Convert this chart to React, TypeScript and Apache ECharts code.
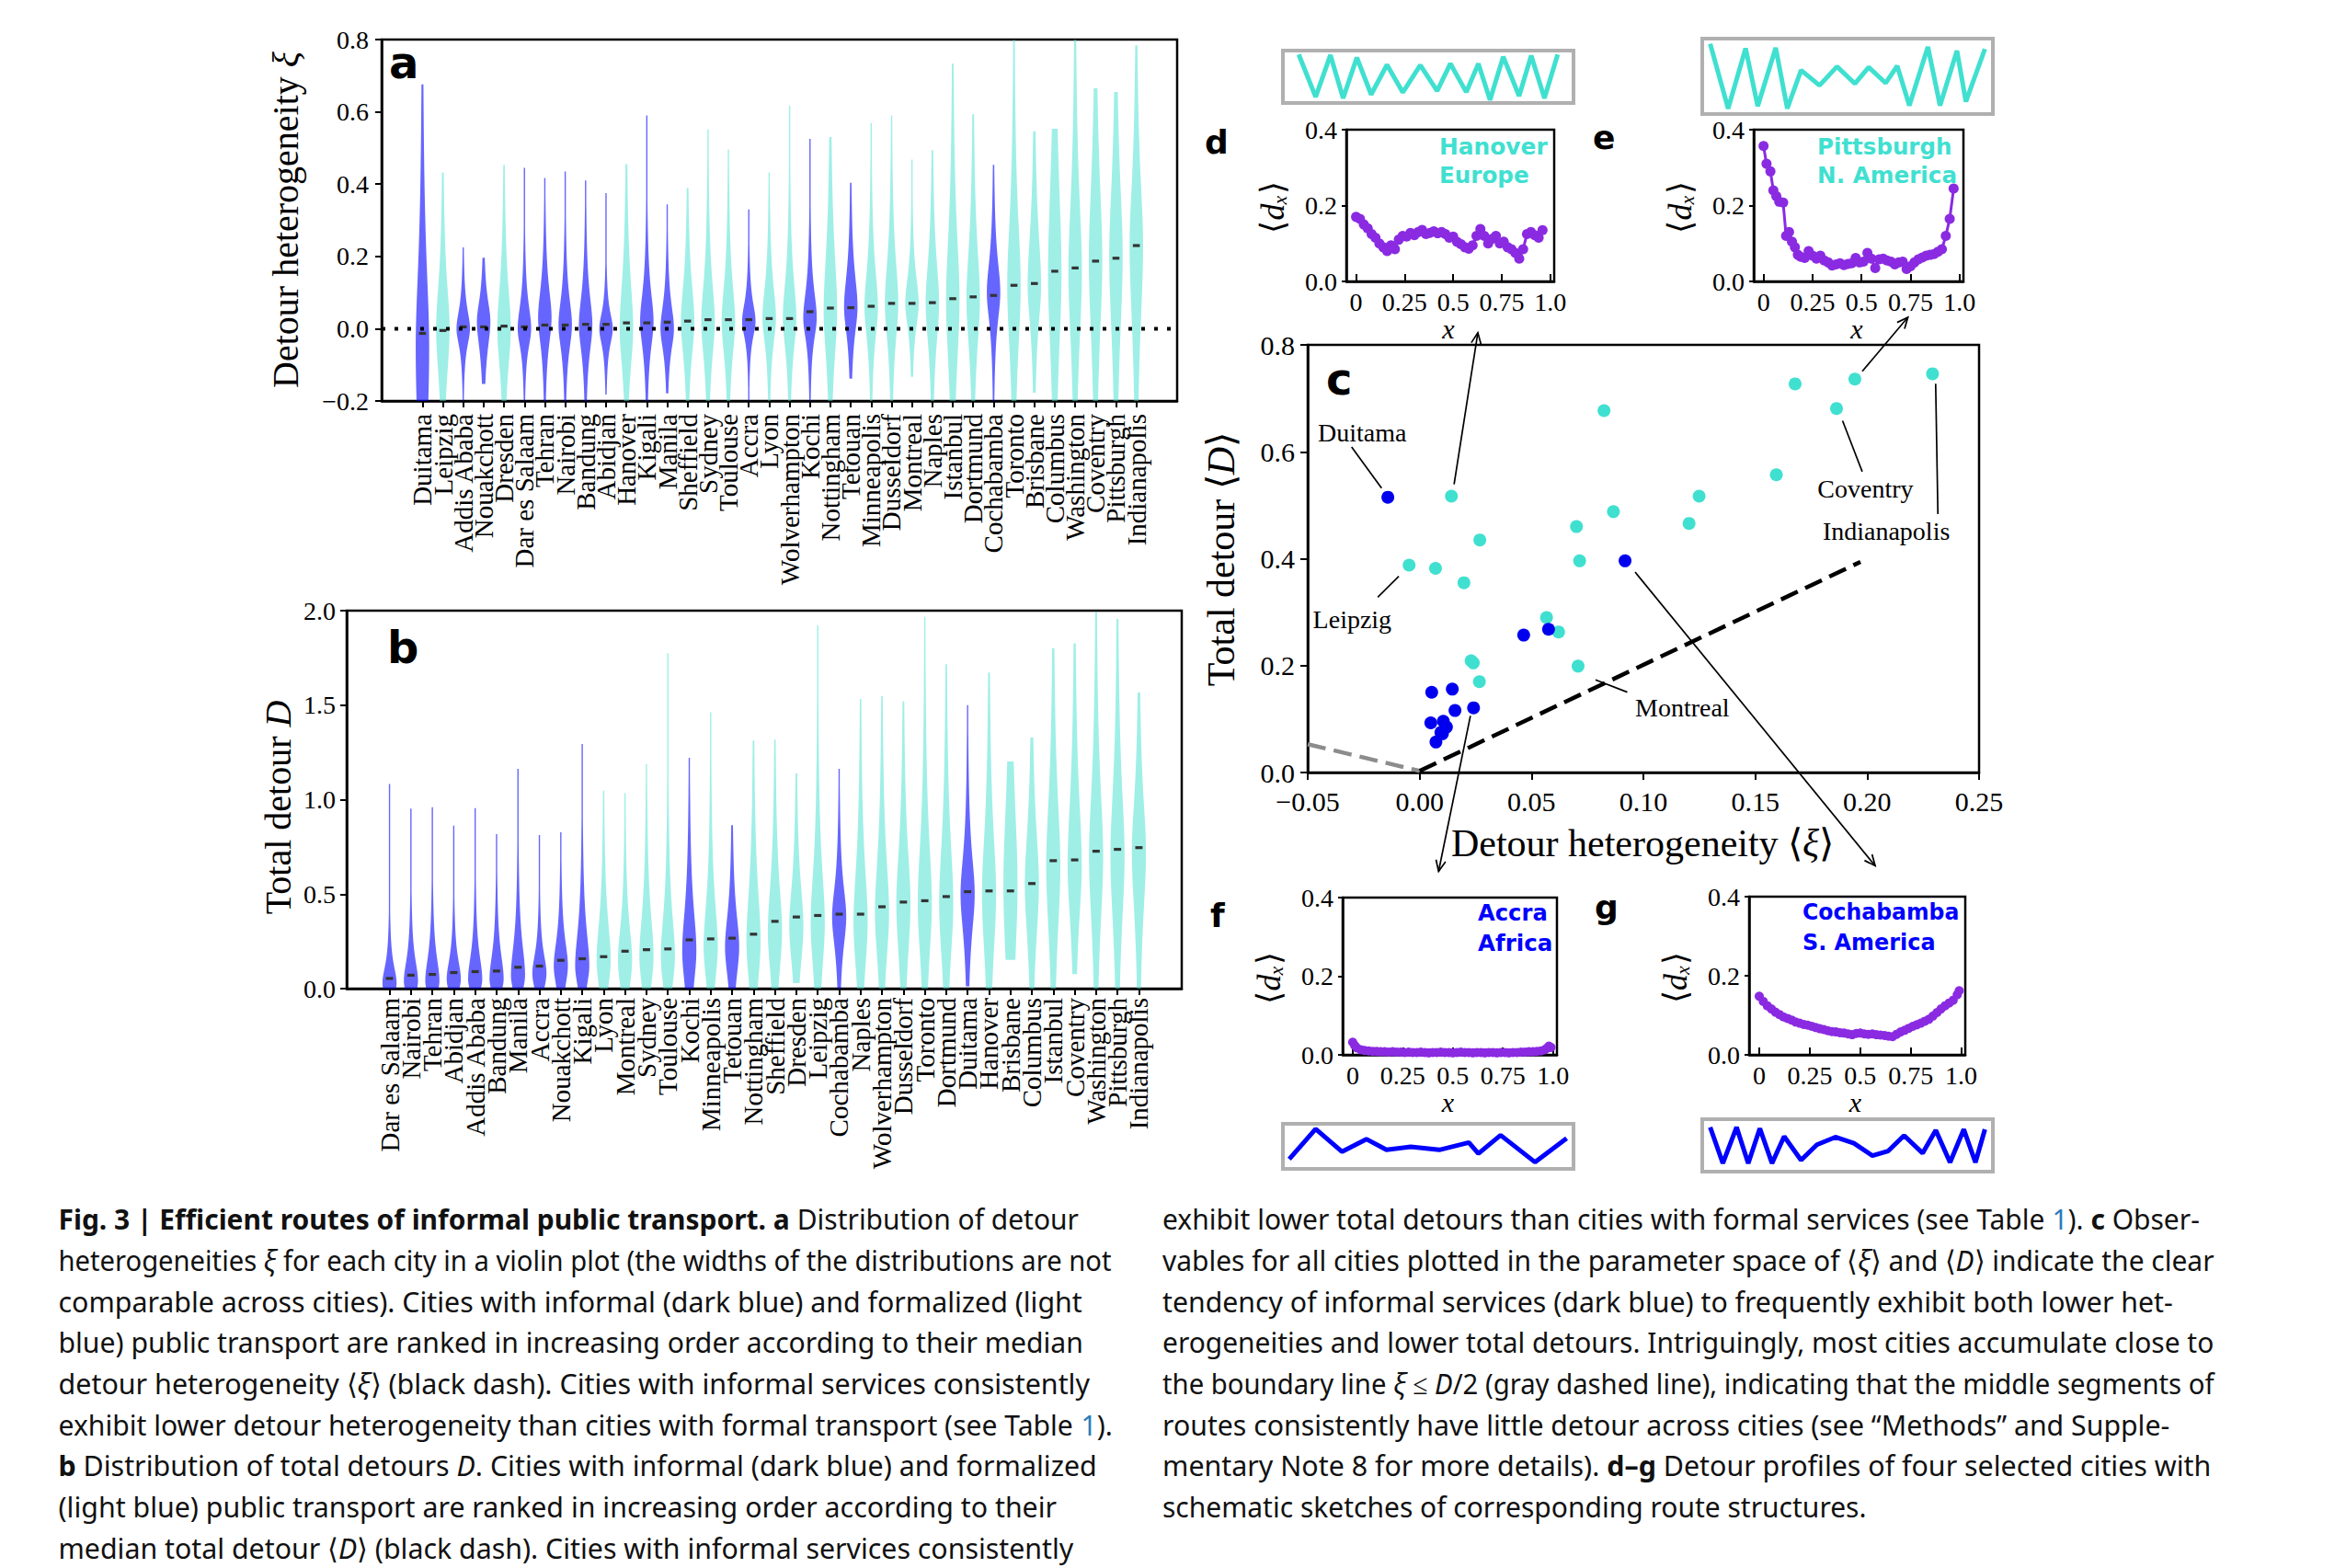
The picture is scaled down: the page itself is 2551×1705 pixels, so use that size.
import React, { useEffect, useRef } from "react";
import * as echarts from "echarts";

const PAGE_W = 2551;
const PAGE_H = 1705;

// ---------------- Panel a : detour heterogeneity xi ----------------
const aCities = ["Duitama", "Leipzig", "Addis Ababa", "Nouakchott", "Dresden", "Dar es Salaam", "Tehran", "Nairobi", "Bandung", "Abidjan", "Hanover", "Kigali", "Manila", "Sheffield", "Sydney", "Toulouse", "Accra", "Lyon", "Wolverhampton", "Kochi", "Nottingham", "Tetouan", "Minneapolis", "Dusseldorf", "Montreal", "Naples", "Istanbul", "Dortmund", "Cochabamba", "Toronto", "Brisbane", "Columbus", "Washington", "Coventry", "Pittsburgh", "Indianapolis"];
const aMedian = [-0.013, -0.005, 0.005, 0.005, 0.007, 0.005, 0.01, 0.01, 0.012, 0.012, 0.016, 0.016, 0.018, 0.021, 0.025, 0.025, 0.025, 0.028, 0.028, 0.047, 0.057, 0.058, 0.062, 0.07, 0.07, 0.072, 0.083, 0.088, 0.092, 0.12, 0.125, 0.159, 0.168, 0.187, 0.195, 0.23];
const aLow = [-0.2, -0.2, -0.2, -0.153, -0.2, -0.2, -0.2, -0.2, -0.2, -0.182, -0.2, -0.2, -0.179, -0.2, -0.2, -0.2, -0.2, -0.2, -0.2, -0.2, -0.2, -0.138, -0.2, -0.2, -0.133, -0.2, -0.2, -0.2, -0.2, -0.2, -0.177, -0.2, -0.2, -0.2, -0.2, -0.2];
const aHigh = [0.676, 0.432, 0.225, 0.196, 0.453, 0.445, 0.417, 0.435, 0.41, 0.375, 0.455, 0.59, 0.344, 0.39, 0.551, 0.496, 0.33, 0.432, 0.617, 0.525, 0.53, 0.404, 0.569, 0.59, 0.468, 0.494, 0.733, 0.593, 0.453, 0.8, 0.546, 0.553, 0.8, 0.665, 0.655, 0.784];
const aPeak = [-0.05, 0.0, 0.0, 0.02, 0.0, 0.0, 0.03, 0.01, 0.01, 0.0, 0.0, 0.02, 0.0, 0.02, 0.02, 0.02, 0.02, 0.03, 0.03, 0.03, 0.05, 0.06, 0.06, 0.07, 0.07, 0.07, 0.08, 0.08, 0.1, 0.12, 0.12, 0.15, 0.16, 0.19, 0.2, 0.23];
const aSpreadUp = [0.3, 0.17, 0.07, 0.08, 0.16, 0.09, 0.11, 0.1, 0.11, 0.06, 0.18, 0.11, 0.09, 0.14, 0.15, 0.14, 0.07, 0.12, 0.14, 0.1, 0.22, 0.12, 0.14, 0.16, 0.1, 0.16, 0.25, 0.2, 0.12, 0.25, 0.2, 0.35, 0.28, 0.3, 0.28, 0.25];
const aSpreadDown = [0.4, 0.18, 0.063, 0.1, 0.15, 0.07, 0.1, 0.09, 0.1, 0.06, 0.15, 0.1, 0.08, 0.13, 0.14, 0.13, 0.06, 0.1, 0.12, 0.08, 0.18, 0.1, 0.12, 0.14, 0.09, 0.15, 0.25, 0.18, 0.11, 0.25, 0.15, 0.3, 0.28, 0.3, 0.3, 0.3];

// ---------------- Panel b : total detour D ----------------
const bCities = ["Dar es Salaam", "Nairobi", "Tehran", "Abidjan", "Addis Ababa", "Bandung", "Manila", "Accra", "Nouakchott", "Kigali", "Lyon", "Montreal", "Sydney", "Toulouse", "Kochi", "Minneapolis", "Tetouan", "Nottingham", "Sheffield", "Dresden", "Leipzig", "Cochabamba", "Naples", "Wolverhampton", "Dusseldorf", "Toronto", "Dortmund", "Duitama", "Hanover", "Brisbane", "Columbus", "Istanbul", "Coventry", "Washington", "Pittsburgh", "Indianapolis"];
const bMedian = [0.054, 0.071, 0.075, 0.085, 0.09, 0.093, 0.113, 0.119, 0.15, 0.158, 0.169, 0.198, 0.206, 0.21, 0.258, 0.263, 0.267, 0.288, 0.356, 0.379, 0.387, 0.394, 0.394, 0.433, 0.458, 0.465, 0.487, 0.513, 0.517, 0.517, 0.556, 0.677, 0.681, 0.727, 0.737, 0.746];
const bLow = [0, 0, 0, 0, 0, 0, 0, 0, 0, 0, 0, 0, 0, 0, 0, 0, 0, 0, 0, 0.029, 0, 0, 0, 0, 0, 0, 0, 0.012, 0, 0.152, 0, 0, 0.077, 0, 0, 0];
const bHigh = [1.083, 0.952, 0.96, 0.862, 0.955, 0.817, 1.163, 0.813, 0.827, 1.294, 1.048, 1.035, 1.187, 1.775, 1.221, 1.462, 0.865, 1.313, 1.317, 1.14, 1.923, 1.163, 1.533, 1.548, 1.519, 1.967, 1.717, 1.5, 1.673, 1.202, 1.329, 1.802, 1.827, 1.994, 1.956, 1.567];
const bPeak = [0.03, 0.04, 0.04, 0.05, 0.05, 0.05, 0.07, 0.08, 0.12, 0.12, 0.15, 0.15, 0.17, 0.17, 0.2, 0.22, 0.22, 0.25, 0.3, 0.33, 0.35, 0.38, 0.35, 0.4, 0.45, 0.45, 0.45, 0.5, 0.5, 0.55, 0.55, 0.65, 0.65, 0.7, 0.7, 0.72];
const bSpreadUp = [0.12, 0.15, 0.17, 0.14, 0.17, 0.18, 0.22, 0.14, 0.18, 0.25, 0.28, 0.25, 0.3, 0.3, 0.3, 0.32, 0.24, 0.38, 0.35, 0.3, 0.38, 0.22, 0.4, 0.4, 0.4, 0.45, 0.45, 0.28, 0.45, 0.6, 0.4, 0.5, 0.5, 0.5, 0.5, 0.4];
const bSpreadDown = [0.1, 0.1, 0.1, 0.1, 0.1, 0.1, 0.12, 0.12, 0.15, 0.15, 0.2, 0.2, 0.22, 0.22, 0.25, 0.25, 0.22, 0.3, 0.3, 0.28, 0.35, 0.22, 0.35, 0.35, 0.4, 0.4, 0.4, 0.28, 0.45, 0.6, 0.4, 0.5, 0.4, 0.5, 0.5, 0.45];

const informalCities = ["Duitama", "Addis Ababa", "Nouakchott", "Dar es Salaam", "Tehran", "Nairobi", "Bandung", "Abidjan", "Kigali", "Manila", "Accra", "Kochi", "Tetouan", "Cochabamba"];

// ---------------- Panel c : <xi> vs <D> ----------------
const cInformalXi = [-0.0142, 0.0918, 0.0465, 0.0576, 0.0054, 0.0146, 0.0158, 0.0241, 0.005, 0.0106, 0.012, 0.0102, 0.0095, 0.0073];
const cInformalD = [0.515, 0.396, 0.257, 0.268, 0.15, 0.156, 0.116, 0.121, 0.093, 0.096, 0.085, 0.0725, 0.075, 0.057];
const cFormalXi = [0.0142, -0.0047, 0.0071, 0.0198, 0.0269, 0.023, 0.024, 0.0267, 0.0567, 0.0621, 0.0708, 0.0701, 0.0715, 0.0866, 0.0824, 0.1204, 0.1249, 0.1594, 0.1678, 0.1863, 0.1945, 0.2292];
const cFormalD = [0.517, 0.388, 0.382, 0.355, 0.435, 0.209, 0.205, 0.17, 0.29, 0.263, 0.199, 0.46, 0.396, 0.488, 0.677, 0.466, 0.517, 0.557, 0.727, 0.681, 0.736, 0.746];
const cBoundaryBlack = [[0, 0.003], [0.197, 0.394]];
const cBoundaryGray = [[-0.05, 0.053], [0, 0.003]];

// ---------------- Panels d-g : detour profiles ----------------
const hanoverX = [0.0, 0.02, 0.04, 0.06, 0.08, 0.1, 0.12, 0.14, 0.16, 0.18, 0.2, 0.22, 0.24, 0.26, 0.28, 0.3, 0.32, 0.34, 0.36, 0.38, 0.4, 0.42, 0.44, 0.46, 0.48, 0.5, 0.52, 0.54, 0.56, 0.58, 0.6, 0.62, 0.64, 0.66, 0.68, 0.7, 0.72, 0.74, 0.76, 0.78, 0.8, 0.82, 0.84, 0.86, 0.88, 0.9, 0.92, 0.94, 0.96];
const hanoverY = [0.17, 0.165, 0.15, 0.14, 0.125, 0.115, 0.1, 0.09, 0.08, 0.095, 0.085, 0.11, 0.12, 0.118, 0.128, 0.122, 0.13, 0.136, 0.125, 0.128, 0.132, 0.127, 0.13, 0.125, 0.115, 0.118, 0.104, 0.098, 0.09, 0.086, 0.095, 0.12, 0.138, 0.12, 0.1, 0.112, 0.12, 0.1, 0.105, 0.09, 0.085, 0.075, 0.06, 0.085, 0.125, 0.13, 0.122, 0.115, 0.135];
const pittsburghX = [0.0, 0.015, 0.035, 0.05, 0.065, 0.08, 0.1, 0.115, 0.13, 0.145, 0.16, 0.175, 0.19, 0.21, 0.23, 0.25, 0.27, 0.29, 0.31, 0.33, 0.35, 0.37, 0.39, 0.41, 0.43, 0.45, 0.47, 0.49, 0.51, 0.53, 0.55, 0.57, 0.59, 0.61, 0.63, 0.65, 0.67, 0.69, 0.71, 0.73, 0.75, 0.77, 0.79, 0.81, 0.83, 0.85, 0.87, 0.89, 0.91, 0.93, 0.95, 0.97];
const pittsburghY = [0.357, 0.31, 0.29, 0.24, 0.225, 0.21, 0.208, 0.12, 0.13, 0.105, 0.09, 0.07, 0.065, 0.062, 0.08, 0.068, 0.06, 0.068, 0.055, 0.05, 0.042, 0.045, 0.048, 0.043, 0.046, 0.048, 0.062, 0.05, 0.052, 0.075, 0.06, 0.035, 0.058, 0.06, 0.055, 0.052, 0.045, 0.05, 0.052, 0.033, 0.04, 0.05, 0.058, 0.063, 0.068, 0.07, 0.072, 0.078, 0.085, 0.12, 0.165, 0.245];
const accraX = [0.0, 0.01, 0.02, 0.04, 0.06, 0.08, 0.1, 0.12, 0.14, 0.16, 0.18, 0.2, 0.22, 0.24, 0.26, 0.28, 0.3, 0.32, 0.34, 0.36, 0.38, 0.4, 0.42, 0.44, 0.46, 0.48, 0.5, 0.52, 0.54, 0.56, 0.58, 0.6, 0.62, 0.64, 0.66, 0.68, 0.7, 0.72, 0.74, 0.76, 0.78, 0.8, 0.82, 0.84, 0.86, 0.88, 0.9, 0.92, 0.94, 0.96, 0.97, 0.98, 0.99];
const accraY = [0.032, 0.024, 0.018, 0.013, 0.011, 0.01, 0.009, 0.009, 0.008, 0.008, 0.007, 0.008, 0.007, 0.007, 0.006, 0.007, 0.006, 0.006, 0.007, 0.006, 0.005, 0.006, 0.006, 0.007, 0.006, 0.006, 0.005, 0.006, 0.007, 0.006, 0.006, 0.005, 0.006, 0.006, 0.005, 0.006, 0.006, 0.005, 0.006, 0.006, 0.005, 0.006, 0.006, 0.007, 0.007, 0.008, 0.008, 0.009, 0.01, 0.013, 0.017, 0.022, 0.019];
const cochabambaX = [0.0, 0.02, 0.04, 0.06, 0.08, 0.1, 0.12, 0.14, 0.16, 0.18, 0.2, 0.22, 0.24, 0.26, 0.28, 0.3, 0.32, 0.34, 0.36, 0.38, 0.4, 0.42, 0.44, 0.46, 0.48, 0.5, 0.52, 0.54, 0.56, 0.58, 0.6, 0.62, 0.64, 0.66, 0.68, 0.7, 0.72, 0.74, 0.76, 0.78, 0.8, 0.82, 0.84, 0.86, 0.88, 0.9, 0.92, 0.94, 0.96, 0.98, 0.99];
const cochabambaY = [0.148, 0.135, 0.124, 0.116, 0.108, 0.102, 0.096, 0.092, 0.088, 0.083, 0.08, 0.077, 0.075, 0.072, 0.069, 0.066, 0.064, 0.061, 0.059, 0.058, 0.056, 0.055, 0.053, 0.051, 0.054, 0.055, 0.053, 0.052, 0.053, 0.051, 0.05, 0.049, 0.047, 0.046, 0.052, 0.058, 0.062, 0.067, 0.072, 0.076, 0.08, 0.085, 0.09, 0.098, 0.107, 0.116, 0.124, 0.131, 0.138, 0.152, 0.162];
const profileTicks = [0, 0.25, 0.5, 0.75, 1.0];

// ---------------- route sketches (normalised to their frames) ----------------
const sketchHanover = [[0.0545, 0.925], [0.1127, 0.116], [0.1636, 0.913], [0.2073, 0.092], [0.2545, 0.867], [0.3036, 0.162], [0.3582, 0.728], [0.4127, 0.202], [0.4727, 0.723], [0.5309, 0.231], [0.5764, 0.751], [0.6309, 0.208], [0.6727, 0.751], [0.7127, 0.058], [0.7582, 0.884], [0.8127, 0.133], [0.8545, 0.902], [0.9, 0.092], [0.9455, 0.925]];
const sketchPittsburgh = [[0.0273, 0.931], [0.0891, 0.073], [0.1491, 0.871], [0.1909, 0.105], [0.2527, 0.879], [0.2927, 0.073], [0.34, 0.581], [0.4036, 0.379], [0.4636, 0.629], [0.5255, 0.403], [0.5727, 0.621], [0.6309, 0.411], [0.6709, 0.637], [0.7127, 0.113], [0.7764, 0.891], [0.8182, 0.113], [0.8764, 0.839], [0.9073, 0.165], [0.9727, 0.863]];
const sketchAccra = [[0.0218, 0.218], [0.1127, 0.884], [0.2036, 0.381], [0.2873, 0.66], [0.3564, 0.422], [0.44, 0.49], [0.5382, 0.422], [0.64, 0.585], [0.6727, 0.34], [0.7491, 0.748], [0.8673, 0.15], [0.9764, 0.68]];
const sketchCochabamba = [[0.0273, 0.847], [0.0709, 0.159], [0.1182, 0.847], [0.1582, 0.159], [0.1982, 0.824], [0.24, 0.159], [0.2818, 0.671], [0.34, 0.218], [0.3945, 0.512], [0.4582, 0.659], [0.5218, 0.541], [0.5855, 0.306], [0.64, 0.394], [0.6945, 0.688], [0.7582, 0.353], [0.8036, 0.788], [0.8527, 0.176], [0.9, 0.806], [0.94, 0.176], [0.9727, 0.806]];

// ---------------- caption ----------------
const captionLeft = [
  [["b", "Fig. 3 | Efficient routes of informal public transport. a"], ["r", " Distribution of detour"]],
  [["r", "heterogeneities "], ["i", "ξ"], ["r", " for each city in a violin plot (the widths of the distributions are not"]],
  [["r", "comparable across cities). Cities with informal (dark blue) and formalized (light"]],
  [["r", "blue) public transport are ranked in increasing order according to their median"]],
  [["r", "detour heterogeneity ⟨"], ["i", "ξ"], ["r", "⟩ (black dash). Cities with informal services consistently"]],
  [["r", "exhibit lower detour heterogeneity than cities with formal transport (see Table "], ["l", "1"], ["r", ")."]],
  [["b", "b"], ["r", " Distribution of total detours "], ["i", "D"], ["r", ". Cities with informal (dark blue) and formalized"]],
  [["r", "(light blue) public transport are ranked in increasing order according to their"]],
  [["r", "median total detour ⟨"], ["i", "D"], ["r", "⟩ (black dash). Cities with informal services consistently"]],
];
const captionRight = [
  [["r", "exhibit lower total detours than cities with formal services (see Table "], ["l", "1"], ["r", "). "], ["b", "c"], ["r", " Obser-"]],
  [["r", "vables for all cities plotted in the parameter space of ⟨"], ["i", "ξ"], ["r", "⟩ and ⟨"], ["i", "D"], ["r", "⟩ indicate the clear"]],
  [["r", "tendency of informal services (dark blue) to frequently exhibit both lower het-"]],
  [["r", "erogeneities and lower total detours. Intriguingly, most cities accumulate close to"]],
  [["r", "the boundary line "], ["i", "ξ"], ["r", " ≤ "], ["i", "D"], ["r", "/2 (gray dashed line), indicating that the middle segments of"]],
  [["r", "routes consistently have little detour across cities (see “Methods” and Supple-"]],
  [["r", "mentary Note 8 for more details). "], ["b", "d–g"], ["r", " Detour profiles of four selected cities with"]],
  [["r", "schematic sketches of corresponding route structures."]],
];

// ---------------- layout ----------------
const G: Record<string, { left: number; top: number; width: number; height: number }> = {
  a: { left: 415, top: 43, width: 865, height: 393 },
  b: { left: 377, top: 664, width: 908, height: 411 },
  c: { left: 1422, top: 375, width: 730, height: 465 },
  d: { left: 1464, top: 141, width: 226, height: 165 },
  e: { left: 1907, top: 141, width: 228, height: 165 },
  f: { left: 1460, top: 976, width: 233, height: 171 },
  g: { left: 1902, top: 975, width: 235, height: 172 },
  sd: { left: 1395, top: 55, width: 316, height: 57 },
  se: { left: 1851, top: 42, width: 316, height: 82 },
  sf: { left: 1395, top: 1222, width: 316, height: 49 },
  sg: { left: 1851, top: 1217, width: 316, height: 57 },
};
const CAP_LEFT_X = 63.5;
const CAP_RIGHT_X = 1264;
const CAP_Y0 = 1325;
const CAP_LH = 44.7;
const CAP_LEFT_ENDS = [1173, 1209, 1177, 1179, 1185, 1210, 1193, 1150, 1167];
const CAP_RIGHT_ENDS = [2392, 2408, 2363, 2408, 2408, 2359, 2404, 2030];

const SERIF = "Liberation Serif";
const BOLD_SANS = "DejaVu Sans";
const CAP_FONT = "Noto Sans";
const CAP_SIZE = 31;
const VIOLIN_INFORMAL = "rgba(0,0,255,0.6)";
const VIOLIN_FORMAL = "rgba(64,224,208,0.5)";
const DOT_INFORMAL = "#0000EE";
const DOT_FORMAL = "#40E0D0";
const PURPLE = "#8A2BE2";

const PADS_L = ["#p0", "#p1"];
const PADS_R = ["#p2", "#p3"];
const isPad = (v: string) => typeof v === "string" && v.indexOf("#p") === 0;

const minusFmt = (digits: number) => (v: number) => (v < -1e-9 ? "\u2212" : "") + Math.abs(v).toFixed(digits);

function gridOf(key: string, border = "#000", bw = 2.5) {
  const r = G[key];
  return { left: r.left, top: r.top, width: r.width, height: r.height, show: true, borderColor: border, borderWidth: bw, backgroundColor: "transparent", containLabel: false };
}

function catAxis(gridIndex: number, cities: string[], margin: number) {
  return {
    type: "category",
    gridIndex,
    data: [...PADS_L, ...cities, ...PADS_R],
    boundaryGap: false,
    axisLine: { show: true, onZero: false, lineStyle: { color: "#000", width: 2.5 } },
    axisTick: { show: true, interval: (_i: number, v: string) => !isPad(v), length: 7, lineStyle: { color: "#000", width: 2 } },
    axisLabel: { interval: 0, rotate: 90, margin, fontFamily: SERIF, fontSize: 29, color: "#000", formatter: (v: string) => (isPad(v) ? "" : v) },
    splitLine: { show: false },
  };
}

function valAxis(gridIndex: number, min: number, max: number, interval: number, fmt: (v: number) => string, margin = 14, fontSize = 28, tickLen = 7) {
  return {
    type: "value",
    gridIndex,
    min,
    max,
    interval,
    axisLine: { show: true, onZero: false, lineStyle: { color: "#000", width: 2.5 } },
    axisTick: { show: true, inside: false, length: tickLen, lineStyle: { color: "#000", width: 2 } },
    axisLabel: { fontFamily: SERIF, fontSize, color: "#000", margin, formatter: fmt },
    splitLine: { show: false },
  };
}

function profileXAxis(gridIndex: number) {
  return {
    type: "value",
    gridIndex,
    min: -0.05,
    max: 1.02,
    axisLine: { show: true, onZero: false, lineStyle: { color: "#000", width: 2.5 } },
    axisTick: { show: true, inside: true, length: 8, customValues: profileTicks, lineStyle: { color: "#000", width: 2 } },
    axisLabel: { customValues: profileTicks, fontFamily: SERIF, fontSize: 28, color: "#000", margin: 8, formatter: (v: number) => (v === 0 ? "0" : v === 1 ? "1.0" : String(v)) },
    splitLine: { show: false },
  };
}

function hiddenAxis(gridIndex: number) {
  return { type: "value", gridIndex, min: 0, max: 1, show: false, splitLine: { show: false } };
}

function violinSeries(axisIndex: number, cities: string[], lo: number[], hi: number[], pk: number[], su: number[], sd: number[], med: number[]) {
  return {
    type: "custom",
    xAxisIndex: axisIndex,
    yAxisIndex: axisIndex,
    silent: true,
    encode: { x: 0, y: 1 },
    data: cities.map((c, i) => [i + PADS_L.length, lo[i], hi[i], pk[i], su[i], sd[i], informalCities.indexOf(c) >= 0 ? 1 : 0, med[i]]),
    renderItem: (_params: any, api: any) => {
      const x = api.value(0);
      const l = api.value(1);
      const h = api.value(2);
      const p = api.value(3);
      const up = api.value(4);
      const dn = api.value(5);
      const inf = api.value(6);
      const md = api.value(7);
      const c0 = api.coord([x, l]);
      const c1 = api.coord([x + 1, l]);
      const sp = Math.abs(c1[0] - c0[0]);
      const hw = 0.33 * sp;
      const n = 140;
      const right: number[][] = [];
      const left: number[][] = [];
      for (let k = 0; k <= n; k++) {
        const y = l + ((h - l) * k) / n;
        const d = y - p;
        const s = d > 0 ? up : dn;
        const f = 1 / (1 + (d / s) * (d / s));
        const w = Math.max(hw * f, 0.7);
        const pt = api.coord([x, y]);
        right.push([pt[0] + w, pt[1]]);
        left.push([pt[0] - w, pt[1]]);
      }
      const pts = right.concat(left.reverse());
      const m = api.coord([x, md]);
      return {
        type: "group",
        children: [
          { type: "polygon", shape: { points: pts }, style: { fill: inf ? VIOLIN_INFORMAL : VIOLIN_FORMAL, stroke: null } },
          { type: "rect", shape: { x: m[0] - 0.17 * sp, y: m[1] - 1.6, width: 0.34 * sp, height: 3.2 }, style: { fill: "#333" } },
        ],
      };
    },
  };
}

function profileSeries(idx: number, xs: number[], ys: number[], size: number) {
  return {
    type: "line",
    xAxisIndex: idx,
    yAxisIndex: idx,
    silent: true,
    data: xs.map((x, i) => [x, ys[i]]),
    symbol: "circle",
    symbolSize: size,
    showSymbol: true,
    showAllSymbol: true,
    itemStyle: { color: PURPLE },
    lineStyle: { color: PURPLE, width: 3 },
  };
}

function sketchSeries(idx: number, pts: number[][], color: string) {
  return {
    type: "line",
    xAxisIndex: idx,
    yAxisIndex: idx,
    silent: true,
    data: pts,
    symbol: "none",
    lineStyle: { color, width: 5 },
  };
}

function buildOption() {
  const f1 = minusFmt(1);
  return {
    animation: false,
    backgroundColor: "#fff",
    grid: [gridOf("a"), gridOf("b"), gridOf("c"), gridOf("d"), gridOf("e"), gridOf("f"), gridOf("g"), gridOf("sd", "#b0b0b0", 4), gridOf("se", "#b0b0b0", 4), gridOf("sf", "#b0b0b0", 4), gridOf("sg", "#b0b0b0", 4)],
    xAxis: [
      catAxis(0, aCities, 14),
      catAxis(1, bCities, 10),
      valAxis(2, -0.05, 0.25, 0.05, minusFmt(2), 16, 30, 8),
      profileXAxis(3),
      profileXAxis(4),
      profileXAxis(5),
      profileXAxis(6),
      hiddenAxis(7),
      hiddenAxis(8),
      hiddenAxis(9),
      hiddenAxis(10),
    ],
    yAxis: [
      valAxis(0, -0.2, 0.8, 0.2, f1, 14, 28, 7),
      valAxis(1, 0, 2.0, 0.5, f1, 12, 28, 7),
      valAxis(2, 0, 0.8, 0.2, f1, 14, 30, 8),
      valAxis(3, 0, 0.4, 0.2, f1, 10, 28, 5),
      valAxis(4, 0, 0.4, 0.2, f1, 10, 28, 5),
      valAxis(5, 0, 0.4, 0.2, f1, 10, 28, 5),
      valAxis(6, 0, 0.4, 0.2, f1, 10, 28, 5),
      hiddenAxis(7),
      hiddenAxis(8),
      hiddenAxis(9),
      hiddenAxis(10),
    ],
    series: [
      violinSeries(0, aCities, aLow, aHigh, aPeak, aSpreadUp, aSpreadDown, aMedian),
      {
        type: "line",
        xAxisIndex: 0,
        yAxisIndex: 0,
        silent: true,
        data: [[0, 0], [PADS_L.length + aCities.length + PADS_R.length - 1, 0]],
        symbol: "none",
        lineStyle: { color: "#000", width: 4, type: [4, 10] },
        z: 5,
      },
      violinSeries(1, bCities, bLow, bHigh, bPeak, bSpreadUp, bSpreadDown, bMedian),
      { type: "line", xAxisIndex: 2, yAxisIndex: 2, silent: true, data: cBoundaryGray, symbol: "none", lineStyle: { color: "#8c8c8c", width: 4.5, type: [20, 9] } },
      { type: "line", xAxisIndex: 2, yAxisIndex: 2, silent: true, data: cBoundaryBlack, symbol: "none", lineStyle: { color: "#000", width: 4.5, type: [20, 9] } },
      { type: "scatter", xAxisIndex: 2, yAxisIndex: 2, silent: true, data: cFormalXi.map((x, i) => [x, cFormalD[i]]), symbolSize: 14, itemStyle: { color: DOT_FORMAL, opacity: 1 } },
      { type: "scatter", xAxisIndex: 2, yAxisIndex: 2, silent: true, data: cInformalXi.map((x, i) => [x, cInformalD[i]]), symbolSize: 14, itemStyle: { color: DOT_INFORMAL, opacity: 1 } },
      profileSeries(3, hanoverX, hanoverY, 11),
      profileSeries(4, pittsburghX, pittsburghY, 11),
      profileSeries(5, accraX, accraY, 10),
      profileSeries(6, cochabambaX, cochabambaY, 10),
      sketchSeries(7, sketchHanover, DOT_FORMAL),
      sketchSeries(8, sketchPittsburgh, DOT_FORMAL),
      sketchSeries(9, sketchAccra, "#0000FF"),
      sketchSeries(10, sketchCochabamba, "#0000FF"),
    ],
  };
}

let measureCtx: CanvasRenderingContext2D | null = null;
function measure(text: string, font: string) {
  if (!measureCtx) measureCtx = document.createElement("canvas").getContext("2d");
  measureCtx!.font = font;
  return measureCtx!.measureText(text).width;
}

function text(x: number, y: number, str: string, o: any = {}) {
  const align = o.align || "left";
  const va = o.va || "middle";
  return {
    type: "text",
    x,
    y,
    rotation: o.rotation || 0,
    scaleX: o.scaleX || 1,
    silent: true,
    z: 100,
    style: {
      text: str,
      fontFamily: o.family || SERIF,
      fontSize: o.size || 28,
      fontWeight: o.weight || "normal",
      fontStyle: o.style || "normal",
      fill: o.color || "#000",
      align,
      textAlign: align,
      verticalAlign: va,
      textVerticalAlign: va,
      rich: o.rich,
    },
  };
}

function mathRich(size: number) {
  return {
    n: { fontFamily: SERIF, fontSize: size, fill: "#000", color: "#000" },
    i: { fontFamily: SERIF, fontSize: size, fontStyle: "italic", fill: "#000", color: "#000" },
  };
}

function arrowEls(p0: number[], p1: number[], head: boolean) {
  const els: any[] = [{ type: "line", silent: true, z: 90, shape: { x1: p0[0], y1: p0[1], x2: p1[0], y2: p1[1] }, style: { stroke: "#000", lineWidth: 1.7 } }];
  if (head) {
    const dx = p1[0] - p0[0];
    const dy = p1[1] - p0[1];
    const L = Math.hypot(dx, dy);
    const ux = dx / L;
    const uy = dy / L;
    const hl = 13;
    const rot = (a: number) => [ux * Math.cos(a) - uy * Math.sin(a), ux * Math.sin(a) + uy * Math.cos(a)];
    const r1 = rot(0.42);
    const r2 = rot(-0.42);
    els.push({ type: "polyline", silent: true, z: 90, shape: { points: [[p1[0] - hl * r1[0], p1[1] - hl * r1[1]], [p1[0], p1[1]], [p1[0] - hl * r2[0], p1[1] - hl * r2[1]]] }, style: { stroke: "#000", lineWidth: 1.7, fill: null } });
  }
  return els;
}

function buildGraphics(chart: any) {
  const px = (grid: number, x: number, y: number) => chart.convertToPixel({ gridIndex: grid }, [x, y]) as number[];
  const els: any[] = [];

  // axis titles
  els.push(text(310, 239, "{n|Detour heterogeneity }{i|ξ}", { rotation: Math.PI / 2, align: "center", rich: mathRich(40) }));
  els.push(text(302, 878, "{n|Total detour }{i|D}", { rotation: Math.PI / 2, align: "center", rich: mathRich(40) }));
  els.push(text(1786, 917, "{n|Detour heterogeneity ⟨}{i|ξ}{n|⟩}", { align: "center", rich: mathRich(42) }));
  els.push(text(1328, 608, "{n|Total detour ⟨}{i|D}{n|⟩}", { rotation: Math.PI / 2, align: "center", rich: mathRich(42) }));

  // panel letters
  const letters: [string, number, number, number][] = [["a", 423, 68, 48], ["b", 421, 704, 48], ["c", 1442, 412, 48], ["d", 1310, 154, 36], ["e", 1732, 149, 36], ["f", 1316, 995, 36], ["g", 1734, 986, 36]];
  letters.forEach(([t, x, y, s]) => els.push(text(x, y, t, { family: BOLD_SANS, weight: "bold", size: s })));

  // profile axis labels
  const profRich = {
    n: { fontFamily: SERIF, fontSize: 36, fill: "#000", color: "#000" },
    i: { fontFamily: SERIF, fontSize: 36, fontStyle: "italic", fill: "#000", color: "#000" },
  };
  ["d", "e", "f", "g"].forEach((k) => {
    const r = G[k];
    els.push(text(r.left - 80, r.top + r.height / 2 + 2, "{n|⟨}{i|dₓ}{n|⟩}", { rotation: Math.PI / 2, align: "center", rich: profRich }));
    els.push(text(r.left + r.width / 2 - 2, r.top + r.height + 51, "x", { align: "center", style: "italic", size: 30 }));
  });

  // city names inside profiles
  const cityLabels: [number, number, number, string, string, number][] = [
    [3, 0.428, 0.356, "Hanover", DOT_FORMAL, 117.7],
    [3, 0.428, 0.281, "Europe", DOT_FORMAL, 97.6],
    [4, 0.274, 0.356, "Pittsburgh", DOT_FORMAL, 146.4],
    [4, 0.274, 0.281, "N. America", DOT_FORMAL, 152],
    [5, 0.625, 0.3614, "Accra", "#0000FF", 75.8],
    [5, 0.625, 0.2854, "Africa", "#0000FF", 81.5],
    [6, 0.214, 0.3614, "Cochabamba", "#0000FF", 170.5],
    [6, 0.214, 0.2854, "S. America", "#0000FF", 144.7],
  ];
  cityLabels.forEach(([gi, x, y, t, col, w]) => {
    const p = px(gi, x, y);
    const nat = measure(t, `bold 25px "${BOLD_SANS}"`);
    els.push(text(p[0], p[1], t, { family: BOLD_SANS, weight: "bold", size: 25, color: col, scaleX: w / nat }));
  });

  // annotations in panel c
  const notes: [string, number[], number[][]][] = [
    ["Duitama", [-0.0455, 0.635], [[-0.0304, 0.609], [-0.017, 0.532]]],
    ["Leipzig", [-0.0477, 0.2856], [[-0.0187, 0.328], [-0.0093, 0.367]]],
    ["Coventry", [0.1778, 0.53], [[0.189, 0.658], [0.1978, 0.5627]]],
    ["Indianapolis", [0.1801, 0.4517], [[0.2306, 0.7274], [0.2316, 0.4834]]],
    ["Montreal", [0.0963, 0.1206], [[0.0786, 0.1734], [0.0928, 0.1503]]],
  ];
  notes.forEach(([t, tp, ln]) => {
    const p = px(2, tp[0], tp[1]);
    els.push(text(p[0], p[1], t, { size: 28 }));
    els.push(...arrowEls(px(2, ln[0][0], ln[0][1]), px(2, ln[1][0], ln[1][1]), false));
  });

  // arrows from panel c to the profile panels
  const arrows: [number[], number, number[]][] = [
    [[0.0154, 0.539], 3, [0.627, -0.135]],
    [[0.1978, 0.7505], 4, [0.7366, -0.0945]],
    [[0.0227, 0.106], 5, [0.429, 0.4667]],
    [[0.0963, 0.375], 6, [0.574, 0.478]],
  ];
  arrows.forEach(([from, gi, to]) => {
    els.push(...arrowEls(px(2, from[0], from[1]), px(gi, to[0], to[1]), true));
  });

  // caption
  const capFont = (s: string) => (s === "b" ? `bold ${CAP_SIZE}px "${CAP_FONT}"` : s === "i" ? `italic ${CAP_SIZE}px "${CAP_FONT}"` : `${CAP_SIZE}px "${CAP_FONT}"`);
  const capRich = {
    r: { fontFamily: CAP_FONT, fontSize: CAP_SIZE, fill: "#111", color: "#111" },
    b: { fontFamily: CAP_FONT, fontSize: CAP_SIZE, fontWeight: "bold", fill: "#111", color: "#111" },
    i: { fontFamily: CAP_FONT, fontSize: CAP_SIZE, fontStyle: "italic", fill: "#111", color: "#111" },
    l: { fontFamily: CAP_FONT, fontSize: CAP_SIZE, fill: "#2b7bb9", color: "#2b7bb9" },
  };
  const addCaption = (lines: string[][][], x0: number, ends: number[]) => {
    lines.forEach((segs, i) => {
      const str = segs.map(([s, t]) => `{${s}|${t}}`).join("");
      const nat = segs.reduce((acc, [s, t]) => acc + measure(t, capFont(s)), 0);
      const target = ends[i] - x0;
      els.push(text(x0, CAP_Y0 + i * CAP_LH, str, { rich: capRich, scaleX: target / nat }));
    });
  };
  addCaption(captionLeft, CAP_LEFT_X, CAP_LEFT_ENDS);
  addCaption(captionRight, CAP_RIGHT_X, CAP_RIGHT_ENDS);

  return els;
}

export default function App() {
  const ref = useRef<HTMLDivElement>(null);
  useEffect(() => {
    if (!ref.current) return;
    const chart = echarts.init(ref.current, null, { renderer: "svg", width: PAGE_W, height: PAGE_H });
    chart.setOption(buildOption() as any);
    chart.setOption({ graphic: { elements: buildGraphics(chart) } } as any);
    return () => {
      chart.dispose();
    };
  }, []);
  return <div ref={ref} style={{ position: "fixed", left: 0, top: 0, width: PAGE_W, height: PAGE_H, background: "#fff" }} />;
}
